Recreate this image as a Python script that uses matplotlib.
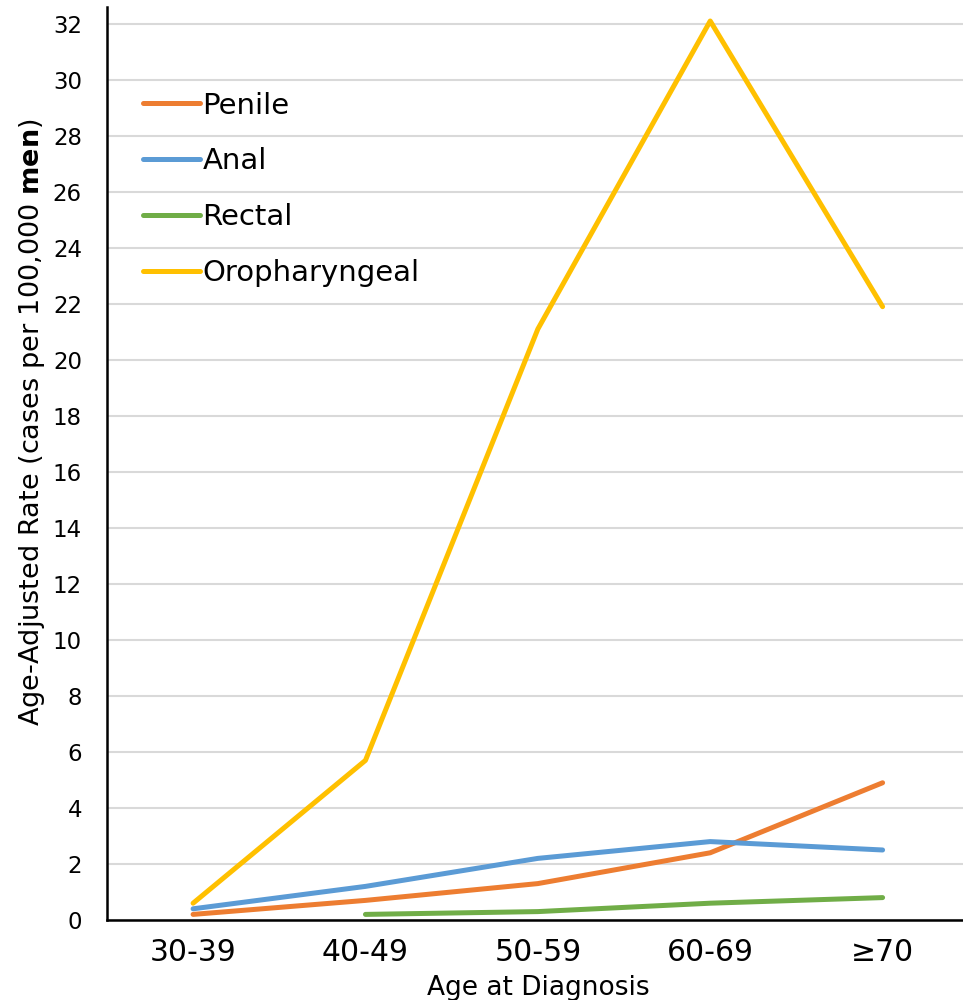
import matplotlib
matplotlib.use("Agg")
import matplotlib.pyplot as plt
import numpy as np

age_groups = ["30-39", "40-49", "50-59", "60-69", "\u226570"]
penile = [0.2, 0.7, 1.3, 2.4, 4.9]
anal = [0.4, 1.2, 2.2, 2.8, 2.5]
rectal = [np.nan, 0.2, 0.3, 0.6, 0.8]
oropharyngeal = [0.6, 5.7, 21.1, 32.1, 21.9]

series = [
    ("Penile", penile, "#ED7D31"),
    ("Anal", anal, "#5B9BD5"),
    ("Rectal", rectal, "#70AD47"),
    ("Oropharyngeal", oropharyngeal, "#FFC000"),
]

plt.rcParams["font.family"] = ["DejaVu Sans"]
fig = plt.figure(figsize=(9.63, 10), dpi=100)
ax = fig.add_axes([0.111, 0.08, 0.895, 0.913])

x = np.arange(len(age_groups))
for name, vals, col in series:
    ax.plot(x, vals, color=col, lw=3.6, label=name, solid_capstyle="round")

ax.set_xlim(-0.5, len(age_groups) - 0.5)
ax.set_ylim(0, 32.6)
ax.set_yticks(np.arange(0, 33, 2))
ax.set_xticks(x)
ax.set_xticklabels(age_groups)
ax.tick_params(axis="both", length=0)
ax.tick_params(axis="x", labelsize=21.5, pad=13)
ax.tick_params(axis="y", labelsize=16.5, pad=18)

ax.grid(axis="y", color="#D9D9D9", lw=1.5)
ax.set_axisbelow(True)
for s in ["top", "right"]:
    ax.spines[s].set_visible(False)
for s in ["left", "bottom"]:
    ax.spines[s].set_color("black")
    ax.spines[s].set_linewidth(1.8)

ax.set_xlabel("Age at Diagnosis", fontsize=19, labelpad=6)
ax.set_ylabel(r"Age-Adjusted Rate (cases per 100,000 $\mathbf{men}$)", fontsize=19.5)
ax.yaxis.set_label_coords(-0.069, 0.545)

leg = ax.legend(loc="upper left", bbox_to_anchor=(0.028, 0.92), borderaxespad=0,
                frameon=False, fontsize=21, handlelength=1.95, handletextpad=0.1,
                labelspacing=0.95)

fig.savefig("out.png", dpi=100)
